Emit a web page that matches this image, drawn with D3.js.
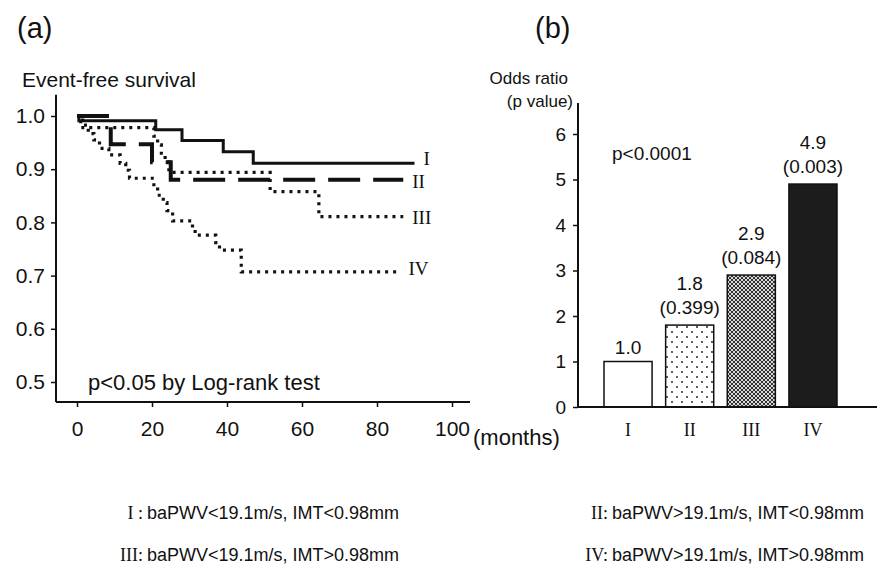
<!DOCTYPE html>
<html>
<head>
<meta charset="utf-8">
<script src="https://cdn.jsdelivr.net/npm/d3@7"></script>
<style>
  body { margin: 0; background: #fff; }
  svg text { font-family: "Liberation Sans", Arial, sans-serif; fill: #111; }
  .roman { font-family: "Liberation Serif", "Times New Roman", serif; }
  .axis path, .axis line { stroke: #111; }
</style>
</head>
<body>
<div id="chart"></div>
<script>
// panel (a): Kaplan-Meier step curves, time in months -> event-free survival
var groups = ["I", "II", "III", "IV"];
var timesI = [0, 0.5, 21, 28, 39, 47, 90];
var survI  = [1.0, 0.991, 0.974, 0.954, 0.933, 0.911, 0.911];
var timesII = [0, 9, 20, 25, 87];
var survII  = [1.0, 0.947, 0.913, 0.880, 0.880];
var timesIII = [0, 1, 20.5, 21.5, 22.5, 23.5, 24.5, 51.5, 64.5, 87];
var survIII  = [1.0, 0.978, 0.962, 0.946, 0.930, 0.914, 0.894, 0.858, 0.811, 0.811];
var timesIV = [0, 1.5, 3, 4.5, 6, 8.5, 11.5, 13, 14, 20.5, 21.5, 23, 24, 25.5, 30.8, 31.5, 37, 38, 43.8, 86];
var survIV  = [1.0, 0.983, 0.967, 0.955, 0.939, 0.927, 0.911, 0.898, 0.883, 0.867, 0.851, 0.837, 0.822, 0.803, 0.789, 0.776, 0.762, 0.748, 0.707, 0.707];
var xTicksA = [0, 20, 40, 60, 80, 100];
var yTicksA = [0.5, 0.6, 0.7, 0.8, 0.9, 1.0];

// panel (b): odds ratio bars
var oddsRatio = [1.0, 1.8, 2.9, 4.9];
var pValues = [null, "0.399", "0.084", "0.003"];
var yTicksB = [0, 1, 2, 3, 4, 5, 6];

var legendText = [
  "baPWV<19.1m/s, IMT<0.98mm",
  "baPWV>19.1m/s, IMT<0.98mm",
  "baPWV<19.1m/s, IMT>0.98mm",
  "baPWV>19.1m/s, IMT>0.98mm"
];

var w = 879, h = 571;
var svg = d3.select("#chart").append("svg")
  .attr("width", w)
  .attr("height", h);

// ---------- panel (a) ----------
var xA = d3.scaleLinear().domain([0, 100]).range([77, 452]);
var yA = d3.scaleLinear().domain([0.5, 1.0]).range([382, 116]);
var axisXa = 56, axisYa = 402;

svg.append("text").attr("x", 17).attr("y", 38).attr("font-size", "29px").text("(a)");
svg.append("text").attr("x", 22).attr("y", 87).attr("font-size", "21px").text("Event-free survival");

var yAxA = svg.append("g")
  .attr("class", "axis")
  .attr("transform", "translate(" + axisXa + ",0)")
  .call(d3.axisLeft(yA).tickValues(yTicksA).tickFormat(d3.format(".1f")).tickSize(5).tickPadding(6));
yAxA.select(".domain").remove();
yAxA.selectAll("text").attr("font-size", "21px").attr("font-family", null);
yAxA.selectAll("line").attr("stroke-width", 1.5);

var xAxA = svg.append("g")
  .attr("class", "axis")
  .attr("transform", "translate(0," + axisYa + ")")
  .call(d3.axisBottom(xA).tickValues(xTicksA).tickSize(5).tickPadding(14));
xAxA.select(".domain").remove();
xAxA.selectAll("text").attr("font-size", "21px").attr("font-family", null);
xAxA.selectAll("line").attr("stroke-width", 1.5);

svg.append("line").attr("x1", axisXa).attr("x2", axisXa).attr("y1", yA(1.04)).attr("y2", axisYa)
  .attr("stroke", "#111").attr("stroke-width", 2);
svg.append("line").attr("x1", axisXa).attr("x2", 470).attr("y1", axisYa).attr("y2", axisYa)
  .attr("stroke", "#111").attr("stroke-width", 2);

var curves = [
  {t: timesI, s: survI, dash: null, width: 3, lab: 165},
  {t: timesII, s: survII, dash: "32,13", width: 4, lab: 188},
  {t: timesIII, s: survIII, dash: "3,5", width: 3.2, lab: 224},
  {t: timesIV, s: survIV, dash: "3,5", width: 3.2, lab: 275}
];
var line = d3.line()
  .x(function(d) { return xA(d[0]); })
  .y(function(d) { return yA(d[1]); })
  .curve(d3.curveStepAfter);

// draw IV first so the solid line sits on top
curves.slice().reverse().forEach(function(c) {
  var pts = c.t.map(function(t, i) { return [t, c.s[i]]; });
  svg.append("path")
    .datum(pts)
    .attr("d", line)
    .attr("fill", "none")
    .attr("stroke", "#111")
    .attr("stroke-width", c.width)
    .attr("stroke-dasharray", c.dash);
});
curves.forEach(function(c, i) {
  svg.append("text")
    .attr("class", "roman")
    .attr("x", xA(c.t[c.t.length - 1]) + 9)
    .attr("y", c.lab)
    .attr("font-size", "19px")
    .text(groups[i]);
});

svg.append("text").attr("x", 88).attr("y", 390).attr("font-size", "22px").text("p<0.05 by Log-rank test");
svg.append("text").attr("x", 473).attr("y", 445).attr("font-size", "22px").text("(months)");

// ---------- panel (b) ----------
var xB = d3.scaleBand().domain(groups).range([604, 837]).paddingInner(0.22);
var yB = d3.scaleLinear().domain([0, 6]).range([407, 134]);
var axisXb = 578, axisYb = 407;

svg.append("text").attr("x", 535).attr("y", 38).attr("font-size", "29px").text("(b)");
svg.append("text").attr("x", 568).attr("y", 84).attr("font-size", "17px").attr("text-anchor", "end").text("Odds ratio");
svg.append("text").attr("x", 573).attr("y", 107).attr("font-size", "17px").attr("text-anchor", "end").text("(p value)");

var defs = svg.append("defs");
var dots = defs.append("pattern").attr("id", "dots").attr("patternUnits", "userSpaceOnUse")
  .attr("width", 10).attr("height", 10);
dots.append("rect").attr("width", 10).attr("height", 10).attr("fill", "#fff");
dots.append("circle").attr("cx", 2).attr("cy", 2).attr("r", 0.9).attr("fill", "#111");
dots.append("circle").attr("cx", 7).attr("cy", 7).attr("r", 0.9).attr("fill", "#111");

var hatch = defs.append("pattern").attr("id", "hatch").attr("patternUnits", "userSpaceOnUse")
  .attr("width", 4).attr("height", 4);
hatch.append("rect").attr("width", 4).attr("height", 4).attr("fill", "#d8d8d8");
hatch.append("path").attr("d", "M0,0 L4,4 M4,0 L0,4").attr("stroke", "#333").attr("stroke-width", 1);

var fills = ["#fff", "url(#dots)", "url(#hatch)", "#1c1c1c"];

svg.selectAll(".bar")
  .data(oddsRatio)
  .enter()
  .append("rect")
  .attr("class", "bar")
  .attr("x", function(d, i) { return xB(groups[i]); })
  .attr("y", function(d) { return yB(d); })
  .attr("width", xB.bandwidth())
  .attr("height", function(d) { return axisYb - yB(d); })
  .attr("fill", function(d, i) { return fills[i]; })
  .attr("stroke", "#111")
  .attr("stroke-width", 1.5);

oddsRatio.forEach(function(d, i) {
  var cx = xB(groups[i]) + xB.bandwidth() / 2;
  if (pValues[i] === null) {
    svg.append("text").attr("x", cx).attr("y", yB(d) - 8).attr("text-anchor", "middle")
      .attr("font-size", "19px").text(d.toFixed(1));
  } else {
    svg.append("text").attr("x", cx).attr("y", yB(d) - 35).attr("text-anchor", "middle")
      .attr("font-size", "19px").text(d.toFixed(1));
    svg.append("text").attr("x", cx).attr("y", yB(d) - 11).attr("text-anchor", "middle")
      .attr("font-size", "19px").text("(" + pValues[i] + ")");
  }
  svg.append("text").attr("class", "roman").attr("x", cx).attr("y", 436).attr("text-anchor", "middle")
    .attr("font-size", "18px").text(groups[i]);
});

var yAxB = svg.append("g")
  .attr("class", "axis")
  .attr("transform", "translate(" + axisXb + ",0)")
  .call(d3.axisLeft(yB).tickValues(yTicksB).tickFormat(d3.format("d")).tickSize(5).tickPadding(7));
yAxB.select(".domain").remove();
yAxB.selectAll("text").attr("font-size", "19px").attr("font-family", null);
yAxB.selectAll("line").attr("stroke-width", 1.5);
svg.append("line").attr("x1", axisXb).attr("x2", axisXb).attr("y1", 103).attr("y2", axisYb)
  .attr("stroke", "#111").attr("stroke-width", 2);
svg.append("line").attr("x1", axisXb).attr("x2", 877).attr("y1", axisYb).attr("y2", axisYb)
  .attr("stroke", "#111").attr("stroke-width", 2);

svg.append("text").attr("x", 612).attr("y", 160).attr("font-size", "19px").text("p<0.0001");

// ---------- legend ----------
var legPos = [[147, 519], [612, 519], [147, 561], [612, 561]];
groups.forEach(function(g, i) {
  svg.append("text").attr("class", "roman").attr("x", legPos[i][0] - 4).attr("y", legPos[i][1])
    .attr("text-anchor", "end").attr("font-size", "18px")
    .text(g + (g === "I" ? " :" : ":"));
  svg.append("text").attr("x", legPos[i][0]).attr("y", legPos[i][1]).attr("font-size", "18px")
    .text(legendText[i]);
});
</script>
</body>
</html>
